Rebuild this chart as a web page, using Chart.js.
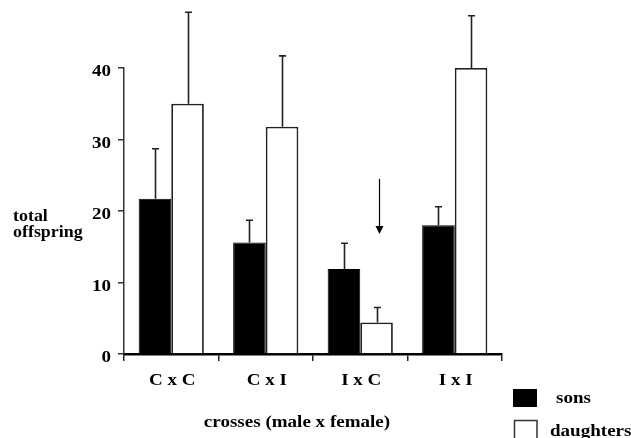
<!DOCTYPE html>
<html>
<head>
<meta charset="utf-8">
<script src="https://cdn.jsdelivr.net/npm/chart.js@4/dist/chart.umd.min.js"></script>
<style>
  html, body { margin: 0; padding: 0; background: #fff; }
  #wrap { width: 631px; height: 438px; position: relative; }
</style>
</head>
<body>
<div id="wrap"><canvas id="c" width="631" height="438"></canvas></div>
<script>
// ---- data ----
const categories = ['C x C', 'C x I', 'I x C', 'I x I'];
const sons = [21.7, 15.6, 11.9, 18.0];
const sonsErr = [7.0, 3.1, 3.6, 2.6];
const daughters = [35.0, 31.8, 4.4, 40.0];
const daughtersErr = [12.8, 9.9, 2.1, 7.3];
const yTicks = [0, 10, 20, 30, 40];
const seriesNames = ['sons', 'daughters'];
const yTitleLines = ['total', 'offspring'];
const xTitle = 'crosses (male x female)';
// arrow annotation (category index, from value, to value)
const arrowCategory = 2;
const arrowFrom = 24.5;
const arrowTo = 16.8;

const FONT = '"Liberation Serif", "Times New Roman", serif';
const STRETCH = 1.12;

function drawText(ctx, str, x, y, align, size) {
  ctx.save();
  ctx.font = 'bold ' + size + 'px ' + FONT;
  ctx.fillStyle = '#000';
  ctx.textBaseline = 'alphabetic';
  ctx.translate(x, y);
  ctx.scale(STRETCH, 1);
  ctx.textAlign = align;
  ctx.fillText(str, 0, 0);
  ctx.restore();
}

const decorations = {
  id: 'decorations',
  afterDraw(chart) {
    const ctx = chart.ctx;
    const xs = chart.scales.x, ys = chart.scales.y;
    const errs = [sonsErr, daughtersErr];
    const vals = [sons, daughters];
    // error bars (upper only)
    ctx.save();
    ctx.strokeStyle = '#222';
    ctx.lineWidth = 1.6;
    for (let d = 0; d < 2; d++) {
      const meta = chart.getDatasetMeta(d);
      meta.data.forEach((el, i) => {
        const x = Math.round(el.x) + 0.5;
        const yTop = ys.getPixelForValue(vals[d][i] + errs[d][i]);
        ctx.beginPath();
        ctx.moveTo(x, el.y);
        ctx.lineTo(x, yTop);
        ctx.moveTo(x - 3.5, yTop);
        ctx.lineTo(x + 3.5, yTop);
        ctx.stroke();
      });
    }
    // arrow
    const ael = chart.getDatasetMeta(1).data[arrowCategory];
    const ax = Math.round(ael.x) + 2.5;
    const ay1 = ys.getPixelForValue(arrowFrom);
    const ay2 = ys.getPixelForValue(arrowTo);
    ctx.lineWidth = 1.2;
    ctx.strokeStyle = '#000';
    ctx.beginPath();
    ctx.moveTo(ax, ay1);
    ctx.lineTo(ax, ay2 - 6);
    ctx.stroke();
    ctx.fillStyle = '#000';
    ctx.beginPath();
    ctx.moveTo(ax - 4, ay2 - 8);
    ctx.lineTo(ax + 4, ay2 - 8);
    ctx.lineTo(ax, ay2);
    ctx.closePath();
    ctx.fill();
    ctx.restore();

    // y tick labels
    yTicks.forEach(v => {
      drawText(ctx, String(v), 111, ys.getPixelForValue(v) + 8, 'right', 17);
    });
    // category labels
    categories.forEach((c, i) => {
      drawText(ctx, c, xs.getPixelForValue(i) + 1, 385, 'center', 17);
    });
    // axis titles
    drawText(ctx, yTitleLines[0], 13, 221, 'left', 16);
    drawText(ctx, yTitleLines[1], 13, 237, 'left', 16);
    drawText(ctx, xTitle, 297, 427, 'center', 17);

    // legend
    ctx.save();
    ctx.fillStyle = '#000';
    ctx.fillRect(513, 389, 24, 18);
    ctx.fillStyle = '#fff';
    ctx.fillRect(514, 420, 23, 20);
    ctx.strokeStyle = '#333';
    ctx.lineWidth = 1.5;
    ctx.strokeRect(514.5, 420.5, 22.5, 20);
    ctx.restore();
    drawText(ctx, seriesNames[0], 556, 403, 'left', 17);
    drawText(ctx, seriesNames[1], 550, 436, 'left', 17);
  }
};

new Chart(document.getElementById('c'), {
  type: 'bar',
  data: {
    labels: categories,
    datasets: [
      {
        label: seriesNames[0],
        data: sons,
        backgroundColor: '#000',
        borderColor: '#000',
        borderWidth: 1,
        barPercentage: 1,
        categoryPercentage: 0.69
      },
      {
        label: seriesNames[1],
        data: daughters,
        backgroundColor: '#fff',
        borderColor: '#222',
        borderWidth: 1.8,
        barPercentage: 1,
        categoryPercentage: 0.69
      }
    ]
  },
  options: {
    responsive: false,
    animation: false,
    devicePixelRatio: 1,
    layout: { padding: { left: 0, top: 68, right: 129, bottom: 0 } },
    plugins: { legend: { display: false }, tooltip: { enabled: false }, title: { display: false } },
    scales: {
      x: {
        z: 1,
        grid: { offset: true, drawOnChartArea: false, drawTicks: true, tickLength: 7, color: '#222', lineWidth: 1.5 },
        border: { color: '#000', width: 2.5 },
        ticks: { display: false },
        afterFit: s => { s.height = 84; }
      },
      y: {
        min: 0,
        max: 40,
        afterBuildTicks: s => { s.ticks = yTicks.map(v => ({ value: v })); },
        grid: { drawOnChartArea: false, drawTicks: true, tickLength: 6, color: '#333', lineWidth: 1.5 },
        border: { color: '#333', width: 1.5 },
        ticks: { display: false },
        afterFit: s => { s.width = 124; }
      }
    }
  },
  plugins: [decorations]
});
</script>
</body>
</html>
